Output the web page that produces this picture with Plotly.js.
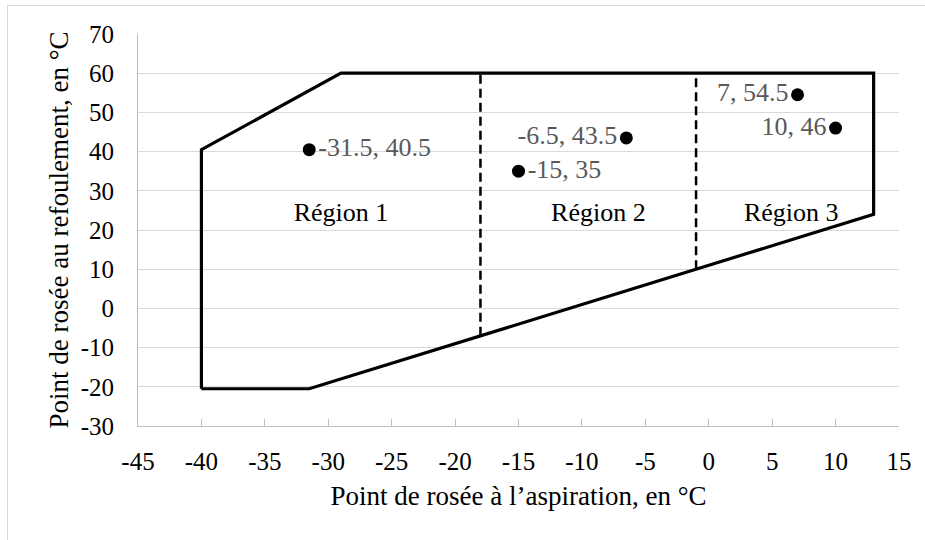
<!DOCTYPE html>
<html>
<head>
<meta charset="utf-8">
<script src="https://cdn.plot.ly/plotly-3.0.1.min.js"></script>
<style>
  html, body { margin: 0; padding: 0; background: #fff; }
  #wrap { position: relative; width: 925px; height: 540px; }
  #frame { position: absolute; left: 7px; top: 5px; width: 930px; height: 600px;
           border-left: 1px solid #d9d9d9; border-top: 1px solid #d9d9d9; pointer-events: none; }
  #chart { position: absolute; left: 0; top: 0; width: 925px; height: 540px; }
</style>
</head>
<body>
<div id="wrap">
  <div id="chart"></div>
  <div id="frame"></div>
</div>
<script>
// Envelope boundary
const envelopeX = [-40, -31.5, 13, 13, -29, -40, -40];
const envelopeY = [-20.5, -20.5, 24, 60, 60, 40.5, -20.5];

// Region dividers (dashed)
const divider1X = [-18, -18];
const divider1Y = [-7, 60];
const divider2X = [-1, -1];
const divider2Y = [10, 60];

// Operating points
const pointsX = [-31.5, -15, -6.5, 7, 10];
const pointsY = [40.5, 35, 43.5, 54.5, 46];
const pointsLabelPos = ['middle right', 'middle right', 'middle left', 'middle left', 'middle left'];

// Region labels
const regionNames = ['Région 1', 'Région 2', 'Région 3'];
const regionX = [-29, -8.7, 6.5];
const regionY = [24, 24, 24];

// Axis ticks
const xTicks = [-45, -40, -35, -30, -25, -20, -15, -10, -5, 0, 5, 10, 15];
const yTicks = [-30, -20, -10, 0, 10, 20, 30, 40, 50, 60, 70];

const FONT = 'Liberation Serif';

const traces = [
  {
    x: envelopeX, y: envelopeY, type: 'scatter', mode: 'lines',
    line: { color: '#000', width: 3.2 }, hoverinfo: 'skip', showlegend: false
  },
  {
    x: divider1X, y: divider1Y, type: 'scatter', mode: 'lines',
    line: { color: '#000', width: 2.5, dash: '9px,5px' }, showlegend: false
  },
  {
    x: divider2X, y: divider2Y, type: 'scatter', mode: 'lines',
    line: { color: '#000', width: 2.5, dash: '9px,5px' }, showlegend: false
  },
  {
    x: pointsX, y: pointsY, type: 'scatter', mode: 'markers+text',
    marker: { color: '#000', size: 13 },
    text: pointsX.map((v, i) => v + ', ' + pointsY[i]),
    textposition: pointsLabelPos,
    textfont: { family: FONT, size: 26, color: '#595959' },
    cliponaxis: false, showlegend: false
  },
  {
    x: regionX, y: regionY, type: 'scatter', mode: 'text',
    text: regionNames, textposition: 'middle center',
    textfont: { family: FONT, size: 26, color: '#000' }, showlegend: false
  }
];

const layout = {
  width: 925, height: 540,
  margin: { l: 138, r: 26, t: 34, b: 114 },
  paper_bgcolor: '#fff', plot_bgcolor: '#fff',
  font: { family: FONT, size: 25, color: '#000' },
  showlegend: false,
  xaxis: {
    range: [-45, 15], tickvals: xTicks, ticktext: xTicks.map(String),
    showgrid: false, zeroline: false,
    showline: true, linecolor: '#bfbfbf', linewidth: 1,
    ticks: 'inside', ticklen: 7, tickcolor: '#bfbfbf', tickwidth: 1,
    ticklabelstandoff: 13,
    tickfont: { family: FONT, size: 25, color: '#000' },
    title: { text: 'Point de rosée à l’aspiration, en °C', font: { family: FONT, size: 27, color: '#000' }, standoff: 12 },
    fixedrange: true
  },
  yaxis: {
    range: [-30, 70], tickvals: yTicks, ticktext: yTicks.map(String),
    showgrid: true, gridcolor: '#d9d9d9', gridwidth: 1, zeroline: false,
    showline: true, linecolor: '#bfbfbf', linewidth: 1,
    ticks: '',
    ticklabelstandoff: 18,
    tickfont: { family: FONT, size: 25, color: '#000' },
    title: { text: 'Point de rosée au refoulement, en °C', font: { family: FONT, size: 27, color: '#000' }, standoff: 4 },
    fixedrange: true
  }
};

Plotly.newPlot('chart', traces, layout, { displayModeBar: false, staticPlot: true });
</script>
</body>
</html>
